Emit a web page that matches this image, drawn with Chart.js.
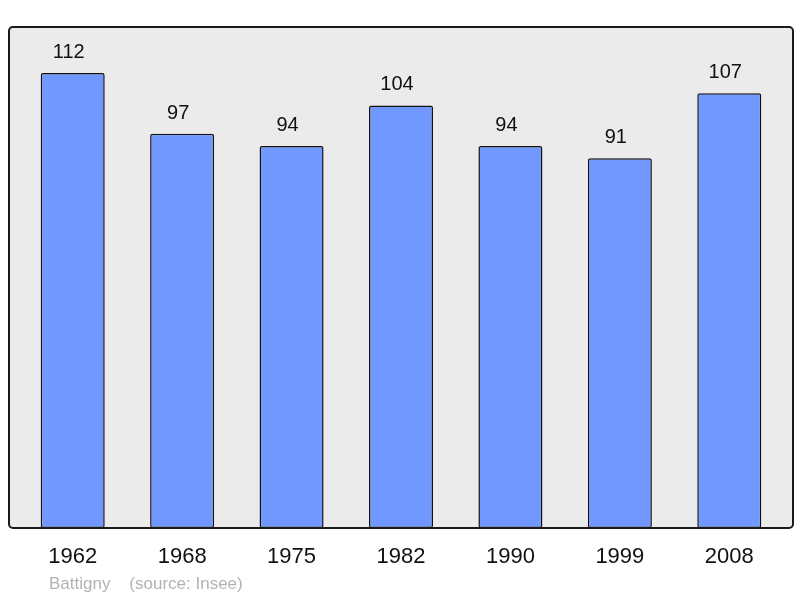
<!DOCTYPE html>
<html>
<head>
<meta charset="utf-8">
<script src="https://cdn.jsdelivr.net/npm/chart.js@4"></script>
<style>
  body { margin: 0; background: #fff; }
  #wrap { position: relative; width: 800px; height: 598px; }
  #foot { position: absolute; left: 49px; top: 574px; font: 17px "Liberation Sans", Arial, sans-serif; color: #b3b3b3; white-space: pre; }
</style>
</head>
<body>
<div id="wrap">
  <canvas id="c" width="800" height="598"></canvas>
  <div id="foot">Battigny    (source: Insee)</div>
</div>
<script>
const years = ["1962", "1968", "1975", "1982", "1990", "1999", "2008"];
const population = [112, 97, 94, 104, 94, 91, 107];

const frame = {
  id: "frame",
  beforeDraw(chart) {
    const { ctx, chartArea: a } = chart;
    ctx.save();
    ctx.beginPath();
    ctx.roundRect(a.left - 9, a.top, a.right - a.left + 18, a.bottom - a.top, 4);
    ctx.fillStyle = "#ebebeb";
    ctx.fill();
    ctx.restore();
  },
  afterDatasetsDraw(chart) {
    const { ctx, chartArea: a } = chart;
    ctx.save();
    ctx.beginPath();
    ctx.roundRect(a.left - 9, a.top, a.right - a.left + 18, a.bottom - a.top, 4);
    ctx.lineWidth = 2;
    ctx.strokeStyle = "#1a1a1a";
    ctx.stroke();
    // value labels
    ctx.font = '20px "Liberation Sans", Arial, sans-serif';
    ctx.fillStyle = "#111";
    ctx.textAlign = "center";
    ctx.textBaseline = "alphabetic";
    chart.getDatasetMeta(0).data.forEach((bar, i) => {
      ctx.fillText(String(population[i]), bar.x - 4, bar.y - 15);
    });
    ctx.restore();
  }
};

new Chart(document.getElementById("c"), {
  type: "bar",
  data: {
    labels: years,
    datasets: [{
      data: population,
      backgroundColor: "#7098ff",
      borderColor: "#111",
      borderWidth: 1.5,
      borderRadius: 2,
      borderSkipped: false,
      barPercentage: 0.585,
      categoryPercentage: 1
    }]
  },
  options: {
    responsive: false,
    animation: false,
    layout: { padding: { left: 18, right: 16, top: 27, bottom: 0 } },
    plugins: { legend: { display: false }, tooltip: { enabled: false } },
    scales: {
      x: {
        grid: { display: false, drawTicks: false },
        border: { display: false },
        ticks: { color: "#111", font: { size: 22, family: '"Liberation Sans", Arial, sans-serif' }, padding: 16 },
        afterFit(s) { s.height = 70; }
      },
      y: { display: false, min: 0, max: 123.3 }
    }
  },
  plugins: [frame]
});
</script>
</body>
</html>
